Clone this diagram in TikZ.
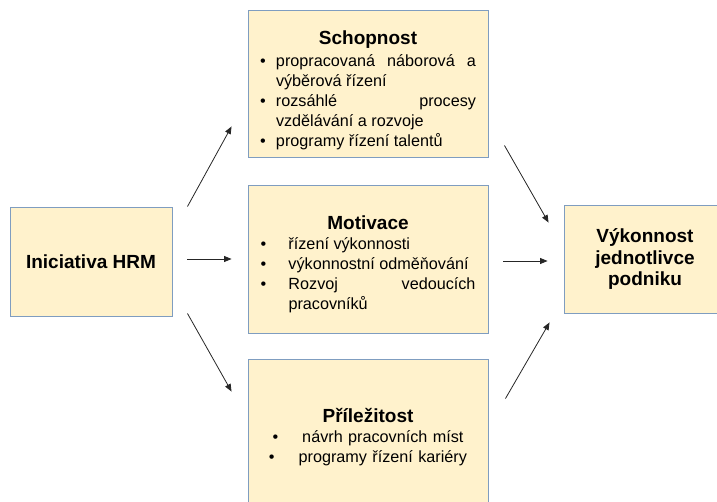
\documentclass[tikz,border=0pt]{standalone}
\usepackage{fontspec}
\setmainfont{Liberation Sans}
\usetikzlibrary{positioning,arrows.meta,calc}
\definecolor{boxfill}{HTML}{FFF2CC}
\definecolor{boxline}{HTML}{7F9DC0}
\newcommand{\bul}[2][16pt]{\par\noindent\hangindent=#1\hangafter=1\makebox[#1][l]{\textbullet}#2\par}
% title line: [gap below]{strut height}{text}
\newcommand{\boxtitle}[3][2pt]{{\centering\fontsize{19}{22}\selectfont\bfseries\rule{0pt}{#2}#3\par}\vspace{#1}}

\begin{document}
\begin{tikzpicture}[x=1pt,y=-1pt,
    box/.style={draw=boxline, fill=boxfill, line width=0.9pt, inner sep=0pt, minimum width=240pt, minimum height=148pt},
    sidebox/.style={box, minimum width=162pt, minimum height=109pt, align=center},
    head/.style={font=\fontsize{19}{21.5}\selectfont\bfseries},
    body/.style={font=\fontsize{16.2}{20}\selectfont}]
    \useasboundingbox (0,0) rectangle (717,501);
    \clip (0,0) rectangle (717,501);

    % Side boxes
    \node[sidebox, head] (hrm) at (91,261.5) {Iniciativa HRM};
    \node[sidebox, head, minimum height=108pt] (vykon) at (645,259) {Výkonnost\\jednotlivce\\podniku};

    % Middle boxes
    \node[box, body, minimum height=147pt, text width=216pt, align=justify] (schop) at (368,83.5) {%
        \boxtitle{27pt}{Schopnost}
        \bul{propracovaná náborová a\linebreak výběrová řízení}
        \bul{rozsáhlé procesy\linebreak vzdělávání a rozvoje}
        \bul{programy řízení talentů}};
    \node[box, body, text width=215pt, align=justify] (motiv) at (368,259) {%
        \boxtitle[0pt]{24pt}{Motivace}
        \bul[28pt]{řízení výkonnosti}
        \bul[28pt]{výkonnostní odměňování}
        \bul[28pt]{Rozvoj vedoucích\linebreak pracovníků}};
    \node[box, body, text width=216pt, align=center] (prilez) at (368,433) {%
        \boxtitle[0pt]{23pt}{Příležitost}
        \textbullet\hspace{24pt}návrh pracovních míst\\
        \textbullet\hspace{24pt}programy řízení kariéry};

    % Arrows
    \begin{scope}[-{Triangle[length=7.5pt,width=6pt]}, line width=0.8pt, black!85]
        \draw ($(hrm.north east)+(15,0)$) -- ($(schop.south west)+(-16,-31)$);
        \draw ($(hrm.east)+(15,-2.5)$) -- ($(motiv.west)+(-16,0)$);
        \draw ($(hrm.south east)+(15,-3)$) -- ($(prilez.north west)+(-16,33)$);
        \draw ($(schop.south east)+(16,-12)$) -- ($(vykon.north west)+(-15,18)$);
        \draw ($(motiv.east)+(15,2)$) -- ($(vykon.west)+(-16,2)$);
        \draw ($(prilez.north east)+(17,40)$) -- ($(vykon.south west)+(-14,9)$);
    \end{scope}
\end{tikzpicture}
\end{document}
